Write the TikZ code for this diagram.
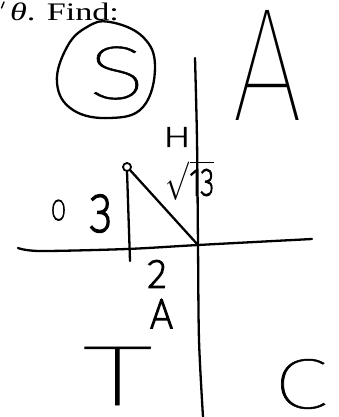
\documentclass[tikz,border=0pt]{standalone}
\usepackage{fontspec}
\usepackage{graphicx}
\setmainfont{Liberation Serif}
\IfFontExistsTF{Fira Sans Thin}{%
  \newfontfamily\handA{Fira Sans Thin}%
  \newfontfamily\handM{Fira Sans Thin}[FakeBold=0.7]%
  \newfontfamily\handS{Fira Sans Thin}[FakeBold=4.5]}{%
  \newfontfamily\handA{DejaVu Sans}\newfontfamily\handM{DejaVu Sans}\newfontfamily\handS{DejaVu Sans}}
\newcommand{\fitto}[3]{\resizebox*{#1pt}{#2pt}{#3}}
\begin{document}
\begin{tikzpicture}[x=1pt,y=-1pt,
  pen/.style={line width=2.3pt, line cap=round, line join=round},
  lbl/.style={inner sep=0pt, outer sep=0pt}]
\useasboundingbox (0,0) rectangle (338,417);
% top printed text
\node[lbl, anchor=base west] (find) at (10,20.5) {\fitto{109}{18}{\textit{θ}. Find:}};
\draw[line width=1.4pt, line cap=round] (4,2) -- (1.5,8);
% circled S
\draw[pen] plot[smooth cycle, tension=0.7] coordinates {(110,22) (143,37) (155,67) (143,107) (110,118) (73,110) (57,83) (67,47) (87,27)};
\node[lbl] (S) at (117,73) {\fitto{57}{53}{\handM S}};
% quadrant letters
\node[lbl] (Aq) at (268,65) {\fitto{70}{110}{\handA A}};
\node[lbl] (T) at (117.5,376) {\fitto{70}{58}{\handM T}};
\node[lbl] (C) at (300.5,384) {\fitto{54}{50}{\handM C}};
% axes
\coordinate (o) at (198,245);
\draw[pen] plot[smooth] coordinates {(195,58) (197,140) (198,245) (199,340) (203,417)};
\draw[pen] plot[smooth] coordinates {(18,248) (40,251) (127,249) (198,245) (312,239)};
% triangle
\node[lbl, circle, draw, line width=1.8pt, minimum size=8pt] (v) at (127,167) {};
\coordinate (foot) at (130,261);
\draw[pen] (v.south) -- (foot);
\draw[pen] (v.south east) -- (o);
% labels
\node[lbl] (H) at (177,137) {\fitto{28}{19}{\handS H}};
\node[lbl] (hyp) at (190,180) {\fitto{48}{40}{$\sqrt{\hbox{\handS 13}}$}};
\node[lbl, anchor=base] (O) at (58.5,220) {\scalebox{0.75}[1]{\fontsize{29pt}{29pt}\selectfont\handS O}};
\node[lbl] (three) at (101,213.5) {\fitto{22}{37}{\handS 3}};
\node[lbl] (two) at (157,274) {\fitto{19}{27}{\handS 2}};
\node[lbl] (Aa) at (161.5,314) {\fitto{23}{28}{\handS A}};
\end{tikzpicture}
\end{document}
